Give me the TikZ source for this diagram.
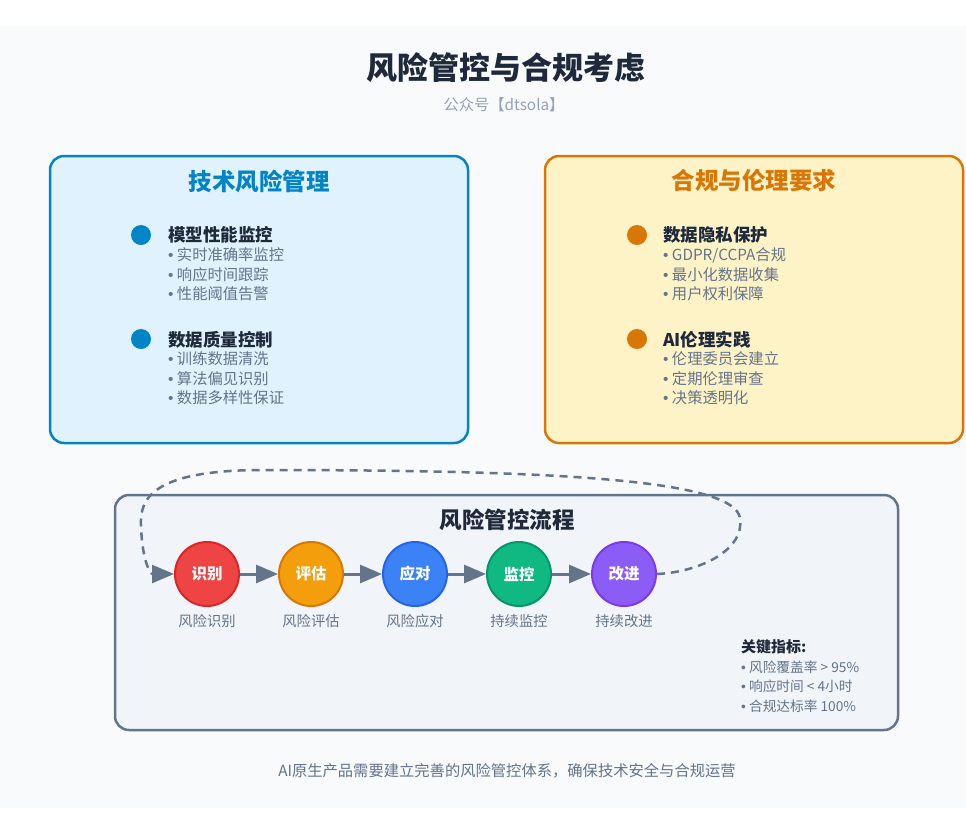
\documentclass[tikz,border=0pt]{standalone}
\usepackage{fontspec}
\setmainfont{Noto Sans CJK SC}
\newfontfamily\bulf{Liberation Sans}
\newcommand{\bul}{{\bulf •} }
\usetikzlibrary{arrows.meta}
\definecolor{panelbg}{HTML}{F8FAFC}
\definecolor{darktxt}{HTML}{1E293B}
\definecolor{graytxt}{HTML}{64748B}
\definecolor{lightgray}{HTML}{94A3B8}
\definecolor{bluec}{HTML}{0284C7}
\definecolor{bluebg}{HTML}{E0F2FE}
\definecolor{orangec}{HTML}{D97706}
\definecolor{orangebg}{HTML}{FEF3C7}
\definecolor{flowbg}{HTML}{F1F5F9}
\definecolor{c1f}{HTML}{EF4444}\definecolor{c1d}{HTML}{DC2626}
\definecolor{c2f}{HTML}{F59E0B}\definecolor{c2d}{HTML}{D97706}
\definecolor{c3f}{HTML}{3B82F6}\definecolor{c3d}{HTML}{2563EB}
\definecolor{c4f}{HTML}{10B981}\definecolor{c4d}{HTML}{059669}
\definecolor{c5f}{HTML}{8B5CF6}\definecolor{c5d}{HTML}{7C3AED}
\tikzset{
  card/.style={rounded corners=14pt, line width=2.5pt},
  cardtitle/.style={font=\fontsize{23.5}{27}\selectfont\bfseries},
  dotmark/.style={circle, minimum size=20pt, inner sep=0pt},
  head/.style={anchor=west, font=\fontsize{17.5}{20}\selectfont\bfseries, text=darktxt, inner sep=0pt},
  item/.style={anchor=west, font=\fontsize{15.3}{18}\selectfont, text=graytxt, inner sep=0pt},
  stepnode/.style={circle, minimum size=64pt, inner sep=0pt, line width=2pt, text=white, font=\fontsize{15.5}{18}\selectfont\bfseries},
  steplabel/.style={font=\fontsize{14.3}{17}\selectfont, text=graytxt},
  flowarrow/.style={draw=graytxt, line width=3pt, -{Triangle[length=22pt,width=18pt]}},
  kpi/.style={anchor=west, font=\fontsize{13.7}{16}\selectfont, text=graytxt, inner sep=0pt}
}
\begin{document}
\begin{tikzpicture}[x=1pt,y=-1pt]
\useasboundingbox (0,0) rectangle (966,828);
\fill[white] (0,0) rectangle (966,828);
\fill[panelbg] (0,26) rectangle (966,808);

\node[font=\fontsize{31}{35}\selectfont\bfseries, text=darktxt] (title) at (506,68) {风险管控与合规考虑};
\node[font=\fontsize{15.3}{18}\selectfont, text=lightgray] (sub) at (504,105) {公众号【dtsola】};

% left card
\draw[card, draw=bluec, fill=bluebg] (50,156) rectangle (468,443);
\node[cardtitle, text=bluec] (lt) at (259,181) {技术风险管理};
\node[dotmark, fill=bluec] (ld1) at (141,235) {};
\node[head] (lh1) at (168,235) {模型性能监控};
\node[item] (li11) at (168,255) {\bul 实时准确率监控};
\node[item] (li12) at (168,275) {\bul 响应时间跟踪};
\node[item] (li13) at (168,294) {\bul 性能阈值告警};
\node[dotmark, fill=bluec] (ld2) at (141,339) {};
\node[head] (lh2) at (168,340) {数据质量控制};
\node[item] (li21) at (168,359) {\bul 训练数据清洗};
\node[item] (li22) at (168,379) {\bul 算法偏见识别};
\node[item] (li23) at (168,398) {\bul 数据多样性保证};

% right card
\draw[card, draw=orangec, fill=orangebg] (545,156) rectangle (963,443);
\node[cardtitle, text=orangec] (rt) at (754,181) {合规与伦理要求};
\node[dotmark, fill=orangec] (rd1) at (637,235) {};
\node[head] (rh1) at (663,235) {数据隐私保护};
\node[item] (ri11) at (663,255) {\bul GDPR/CCPA合规};
\node[item] (ri12) at (663,275) {\bul 最小化数据收集};
\node[item] (ri13) at (663,294) {\bul 用户权利保障};
\node[dotmark, fill=orangec] (rd2) at (637,339) {};
\node[head] (rh2) at (663,340) {AI伦理实践};
\node[item] (ri21) at (663,359) {\bul 伦理委员会建立};
\node[item] (ri22) at (663,379) {\bul 定期伦理审查};
\node[item] (ri23) at (663,398) {\bul 决策透明化};

% flow card
\draw[card, draw=graytxt, fill=flowbg] (115,495) rectangle (898,730);
\node[font=\fontsize{22.5}{26}\selectfont\bfseries, text=darktxt] (ft) at (507,520) {风险管控流程};

\node[stepnode, fill=c1f, draw=c1d] (s1) at (207,574) {识别};
\node[stepnode, fill=c2f, draw=c2d] (s2) at (311,574) {评估};
\node[stepnode, fill=c3f, draw=c3d] (s3) at (415,574) {应对};
\node[stepnode, fill=c4f, draw=c4d] (s4) at (519,574) {监控};
\node[stepnode, fill=c5f, draw=c5d] (s5) at (624,574) {改进};

\node[steplabel] (l1) at (207,621) {风险识别};
\node[steplabel] (l2) at (311,621) {风险评估};
\node[steplabel] (l3) at (415,621) {风险应对};
\node[steplabel] (l4) at (519,621) {持续监控};
\node[steplabel] (l5) at (624,621) {持续改进};

\draw[flowarrow] (s1) -- (s2);
\draw[flowarrow] (s2) -- (s3);
\draw[flowarrow] (s3) -- (s4);
\draw[flowarrow] (s4) -- (s5);

\draw[draw=graytxt, line width=2.5pt, dash pattern=on 8pt off 6pt, -{Triangle[length=22pt,width=18pt]}]
  (s5.east) .. controls (700,572) and (745,550) .. (740,518)
  .. controls (734,480) and (560,470) .. (263,470)
  .. controls (150,470) and (140,500) .. (141,525)
  .. controls (142,560) and (150,574) .. (s1.west);

\node[anchor=west, font=\fontsize{15}{18}\selectfont\bfseries, text=darktxt, inner sep=0pt] (kt) at (741,647) {关键指标:};
\node[kpi] (k1) at (741,667) {\bul 风险覆盖率 > 95\%};
\node[kpi] (k2) at (741,686) {\bul 响应时间 < 4小时};
\node[kpi] (k3) at (741,706) {\bul 合规达标率 100\%};

\node[font=\fontsize{15.3}{18}\selectfont, text=graytxt] (foot) at (507,771) {AI原生产品需要建立完善的风险管控体系，确保技术安全与合规运营};
\end{tikzpicture}
\end{document}
